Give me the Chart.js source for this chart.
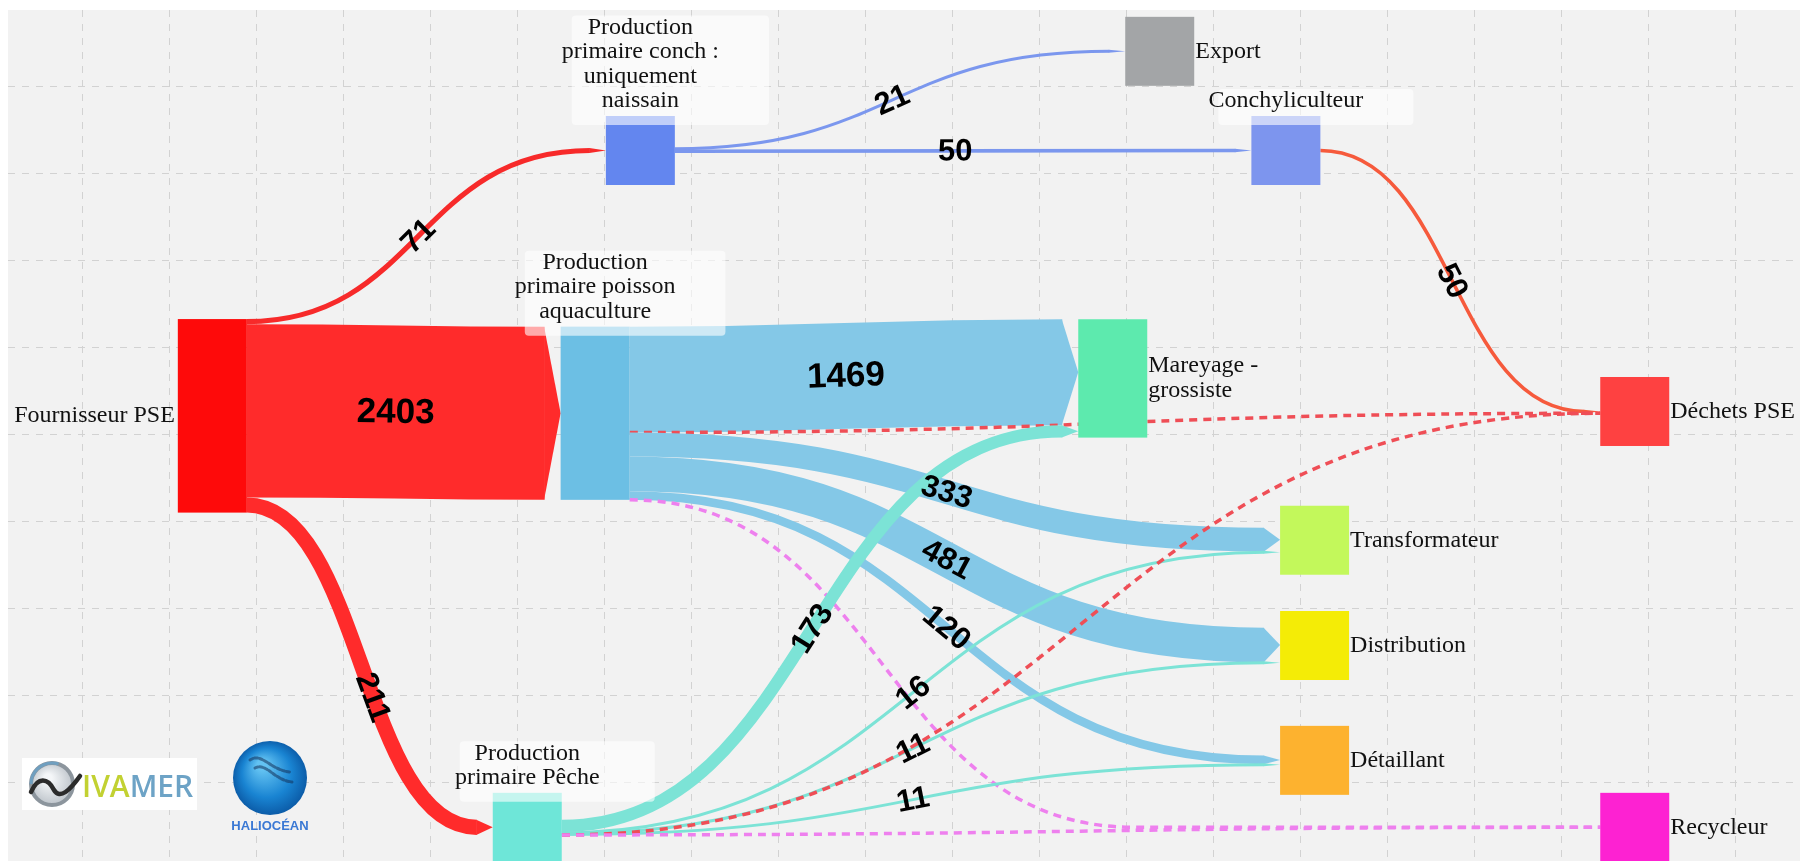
<!DOCTYPE html>
<html>
<head>
<meta charset="utf-8">
<script src="https://cdn.jsdelivr.net/npm/chart.js@4.4.1/dist/chart.umd.min.js"></script>
<style>
  html, body { margin: 0; padding: 0; background: #ffffff; }
  #wrap { width: 1800px; height: 861px; }
</style>
</head>
<body>
<div id="wrap"><canvas id="myChart" width="1800" height="861"></canvas></div>
<script>
'use strict';

// Nodes of the flow chart
const nodeNames = ['Fournisseur PSE', 'Production\nprimaire conch :\nuniquement\nnaissain',
  'Production\nprimaire poisson\naquaculture', 'Production\nprimaire Pêche', 'Export', 'Conchyliculteur',
  'Mareyage -\ngrossiste', 'Déchets PSE', 'Transformateur', 'Distribution', 'Détaillant', 'Recycleur'];
// node placement on the grid (grid units)
const nodeCol = [1.09, 6.01, 5.49, 4.71, 11.98, 13.43, 11.44, 17.44, 13.76, 13.76, 13.76, 17.44];
const nodeRow = [3.78, 0.73, 3.75, 8.51, -0.41, 0.73, 3.35, 3.73, 5.21, 6.42, 7.74, 8.51];
const nodeLabelSide = ['left', 'top', 'top', 'top', 'right', 'top', 'right', 'right', 'right', 'right', 'right', 'right'];
const nodeColors = ['#fe0a0a', '#6386ef', '#6cbfe4', '#6ee6d8', '#a3a5a7', '#7d95ee', '#5deaae', '#fe4141',
  '#c3f85b', '#f4ec06', '#fdb22f', '#fd22d2'];

// Flows (tonnes). null = flux non chiffre (pointilles)
const linkSource = [0, 0, 0, 1, 1, 5, 2, 2, 2, 2, 2, 2, 3, 3, 3, 3, 3, 3];
const linkTarget = [1, 2, 3, 4, 5, 7, 6, 7, 8, 9, 10, 11, 6, 8, 9, 10, 7, 11];
const linkValue  = [71, 2403, 211, 21, 50, 50, 1469, null, 333, 481, 120, null, 173, 16, 11, 11, null, null];
const linkColors = ['#f72a2a', '#ff2b2b', '#ff2b2b', '#7b97ee', '#7b97ee', '#f65a3c', '#84c8e7', '#ef4e56',
  '#84c8e7', '#84c8e7', '#84c8e7', '#ee80ee', '#7ce3d6', '#7ce3d6', '#7ce3d6', '#7ce3d6', '#ef4e56', '#ee80ee'];
// part of the horizontal run used by the curve (rest is flat)
const linkCurve  = [1, 1, 1, 1, 1, 1, 1, 1, 1, 1, 1, 0.52, 1, 1, 1, 1, 1, 1];
// where along the curve the value label sits
const linkLabelAt = [0.5, 0.5, 0.565, 0.5, 0.5, 0.5, 0.5, 0.5, 0.5, 0.5, 0.5, 0.5, 0.5, 0.5, 0.5, 0.5, 0.5, 0.5];

// grid ticks
const gridCols = [0, 1, 2, 3, 4, 5, 6, 7, 8, 9, 10, 11, 12, 13, 14, 15, 16, 17, 18, 19];
const gridRows = [0, 1, 2, 3, 4, 5, 6, 7, 8];

const TONNES_PER_UNIT = 1207;
const NODE_SIZE = 0.793;
const ARROW_PX = 16;

function bez(p, t) {
  const u = 1 - t;
  return u * u * u * p[0] + 3 * u * u * t * p[1] + 3 * u * t * t * p[2] + t * t * t * p[3];
}
function bezD(p, t) {
  const u = 1 - t;
  return 3 * u * u * (p[1] - p[0]) + 6 * u * t * (p[2] - p[1]) + 3 * t * t * (p[3] - p[2]);
}

function drawLines(ctx, lines, cx, cy, align, lh) {
  ctx.textAlign = align;
  ctx.textBaseline = 'middle';
  const y0 = cy - (lines.length - 1) * lh / 2;
  lines.forEach((l, k) => ctx.fillText(l, cx, y0 + k * lh));
}

const sankeyPlugin = {
  id: 'sankey',
  beforeDraw(chart) {
    const ctx = chart.ctx, a = chart.chartArea;
    ctx.save();
    ctx.fillStyle = '#ffffff';
    ctx.fillRect(0, 0, chart.width, chart.height);
    ctx.fillStyle = '#f2f2f2';
    ctx.fillRect(a.left, a.top, a.right - a.left, a.bottom - a.top);
    ctx.restore();
  },
  afterDatasetsDraw(chart) {
    const ctx = chart.ctx;
    const xs = chart.scales.x, ys = chart.scales.y;
    const thick = v => Math.abs(ys.getPixelForValue(v / TONNES_PER_UNIT) - ys.getPixelForValue(0));
    const minH = Math.abs(ys.getPixelForValue(NODE_SIZE) - ys.getPixelForValue(0));

    const n = nodeNames.length;
    const inSum = new Array(n).fill(0), outSum = new Array(n).fill(0);
    linkValue.forEach((v, i) => { outSum[linkSource[i]] += v || 0; inSum[linkTarget[i]] += v || 0; });

    const nodes = nodeNames.map((name, i) => {
      const left = xs.getPixelForValue(nodeCol[i]);
      const right = xs.getPixelForValue(nodeCol[i] + NODE_SIZE);
      const cy = ys.getPixelForValue(nodeRow[i]);
      const h = Math.max(thick(Math.max(inSum[i], outSum[i])), minH);
      return { left: left, right: right, cy: cy, top: cy - h / 2, h: h,
        outY: cy - thick(outSum[i]) / 2, inY: cy - thick(inSum[i]) / 2 };
    });

    ctx.save();
    const labels = [];
    // links
    linkValue.forEach((v, i) => {
      const s = nodes[linkSource[i]], t = nodes[linkTarget[i]];
      const w = v ? thick(v) : 0;
      const sy = s.outY + w / 2; s.outY += w;
      const ty = t.inY + w / 2; t.inY += w;
      const sx = s.right, tx = t.left;
      const endX = v ? tx - ARROW_PX : tx;
      const cEnd = sx + (endX - sx) * linkCurve[i];
      const mx = (sx + cEnd) / 2;
      ctx.strokeStyle = linkColors[i];
      ctx.lineCap = 'butt';
      ctx.beginPath();
      ctx.moveTo(sx, sy);
      ctx.bezierCurveTo(mx, sy, mx, ty, cEnd, ty);
      ctx.lineTo(endX, ty);
      if (v) {
        const lw = Math.max(w, 3);
        ctx.setLineDash([]);
        ctx.lineWidth = lw;
        ctx.stroke();
        ctx.fillStyle = linkColors[i];
        ctx.beginPath();
        ctx.moveTo(endX - 0.5, ty - lw / 2);
        ctx.lineTo(tx, ty);
        ctx.lineTo(endX - 0.5, ty + lw / 2);
        ctx.closePath();
        ctx.fill();
        const px = [sx, mx, mx, cEnd], py = [sy, sy, ty, ty];
        const tl = linkLabelAt[i];
        labels.push({ text: String(v), x: bez(px, tl), y: bez(py, tl),
          a: Math.atan2(bezD(py, tl), bezD(px, tl)), big: v >= 1000 });
      } else {
        ctx.setLineDash([8, 6]);
        ctx.lineWidth = 3.5;
        ctx.stroke();
      }
    });
    ctx.setLineDash([]);

    // nodes
    nodes.forEach((nd, i) => {
      ctx.fillStyle = nodeColors[i];
      ctx.fillRect(nd.left, nd.top, nd.right - nd.left, nd.h);
    });

    // node labels
    ctx.font = '24px "Liberation Serif"';
    nodes.forEach((nd, i) => {
      const lines = nodeNames[i].split('\n');
      const lh = 24.5;
      if (nodeLabelSide[i] === 'left') {
        ctx.fillStyle = '#111111';
        drawLines(ctx, lines, nd.left - 3, nd.cy, 'right', lh);
      } else if (nodeLabelSide[i] === 'right') {
        ctx.fillStyle = '#111111';
        drawLines(ctx, lines, nd.right + 1, nd.cy, 'left', lh);
      } else {
        const cx = (nd.left + nd.right) / 2;
        const lastY = nd.top - 15;
        const firstY = lastY - (lines.length - 1) * lh;
        const tw = Math.max.apply(null, lines.map(l => ctx.measureText(l).width));
        const bw = Math.max(tw + 40, 195);
        const bx = cx + 30 - bw / 2;
        ctx.fillStyle = 'rgba(255,255,255,0.6)';
        ctx.beginPath();
        ctx.roundRect(bx, firstY - 12, bw, nd.top + 9 - (firstY - 12), 4);
        ctx.fill();
        ctx.fillStyle = '#111111';
        drawLines(ctx, lines, cx, (firstY + lastY) / 2, 'center', lh);
      }
    });

    // value labels along the flows
    ctx.fillStyle = '#000000';
    ctx.textAlign = 'center';
    ctx.textBaseline = 'middle';
    labels.forEach(l => {
      ctx.save();
      ctx.translate(l.x, l.y);
      ctx.rotate(l.a);
      ctx.font = (l.big ? 'bold 35px' : 'bold 31px') + ' "Liberation Sans"';
      ctx.fillText(l.text, 0, 1);
      ctx.restore();
    });
    ctx.restore();
  },
  afterDraw(chart) {
    const ctx = chart.ctx;
    ctx.save();
    // IVAMER logo
    ctx.fillStyle = '#ffffff';
    ctx.fillRect(22, 758, 175, 52);
    const g = ctx.createRadialGradient(48, 778, 4, 52, 784, 24);
    g.addColorStop(0, '#f4f6f8');
    g.addColorStop(1, '#b7bec5');
    ctx.fillStyle = g;
    ctx.beginPath(); ctx.arc(52, 784, 22, 0, Math.PI * 2); ctx.fill();
    ctx.strokeStyle = '#8c959d'; ctx.lineWidth = 4;
    ctx.beginPath(); ctx.arc(52, 784, 21, 0, Math.PI * 2); ctx.stroke();
    ctx.strokeStyle = '#6f9fc0'; ctx.lineWidth = 3;
    ctx.beginPath(); ctx.arc(52, 784, 21, Math.PI * 1.0, Math.PI * 1.6); ctx.stroke();
    ctx.strokeStyle = '#2b2b2b'; ctx.lineWidth = 4.5; ctx.lineCap = 'round';
    ctx.beginPath(); ctx.moveTo(31, 792);
    ctx.bezierCurveTo(38, 776, 48, 778, 54, 790);
    ctx.bezierCurveTo(60, 800, 70, 790, 80, 776);
    ctx.stroke();
    ctx.font = '600 30px "Open Sans"';
    ctx.textAlign = 'left'; ctx.textBaseline = 'alphabetic';
    ctx.fillStyle = '#c2d132';
    ctx.fillText('IVA', 82, 797);
    const wIva = ctx.measureText('IVA').width;
    ctx.fillStyle = '#6da3c6';
    ctx.fillText('MER', 82 + wIva, 797);

    // HALIOCEAN logo
    const g2 = ctx.createRadialGradient(262, 765, 5, 270, 778, 38);
    g2.addColorStop(0, '#63c2f2');
    g2.addColorStop(0.6, '#1984d2');
    g2.addColorStop(1, '#0b5aa6');
    ctx.fillStyle = g2;
    ctx.beginPath(); ctx.arc(270, 778, 37, 0, Math.PI * 2); ctx.fill();
    ctx.strokeStyle = 'rgba(20,50,90,0.55)'; ctx.lineWidth = 3; ctx.setLineDash([3, 2]);
    ctx.beginPath(); ctx.moveTo(250, 760); ctx.bezierCurveTo(262, 752, 270, 770, 290, 772); ctx.stroke();
    ctx.beginPath(); ctx.moveTo(255, 768); ctx.bezierCurveTo(266, 762, 274, 780, 292, 782); ctx.stroke();
    ctx.setLineDash([]);
    ctx.font = 'bold 13px "Liberation Sans"';
    ctx.textAlign = 'center';
    ctx.fillStyle = '#3a78d4';
    ctx.fillText('HALIOCÉAN', 270, 830);
    ctx.restore();
  }
};

const chart = new Chart(document.getElementById('myChart'), {
  type: 'scatter',
  data: {
    datasets: [{
      label: 'noeuds',
      data: nodeCol.map((c, i) => ({ x: c + NODE_SIZE / 2, y: nodeRow[i] })),
      pointRadius: 0
    }]
  },
  options: {
    responsive: false,
    animation: false,
    events: [],
    layout: { padding: { left: 8, top: 10, right: 0, bottom: 0 } },
    plugins: { legend: { display: false }, tooltip: { enabled: false } },
    scales: {
      x: {
        type: 'linear', min: -0.862, max: 19.736,
        ticks: { display: false },
        grid: { color: '#d2d2d2', lineWidth: 1, drawTicks: false },
        border: { display: false, dash: [7, 7] },
        afterBuildTicks: axis => { axis.ticks = gridCols.map(v => ({ value: v })); }
      },
      y: {
        type: 'linear', reverse: true, min: -0.885, max: 8.897,
        ticks: { display: false },
        grid: { color: '#d2d2d2', lineWidth: 1, drawTicks: false },
        border: { display: false, dash: [7, 7] },
        afterBuildTicks: axis => { axis.ticks = gridRows.map(v => ({ value: v })); }
      }
    }
  },
  plugins: [sankeyPlugin]
});
</script>
</body>
</html>
